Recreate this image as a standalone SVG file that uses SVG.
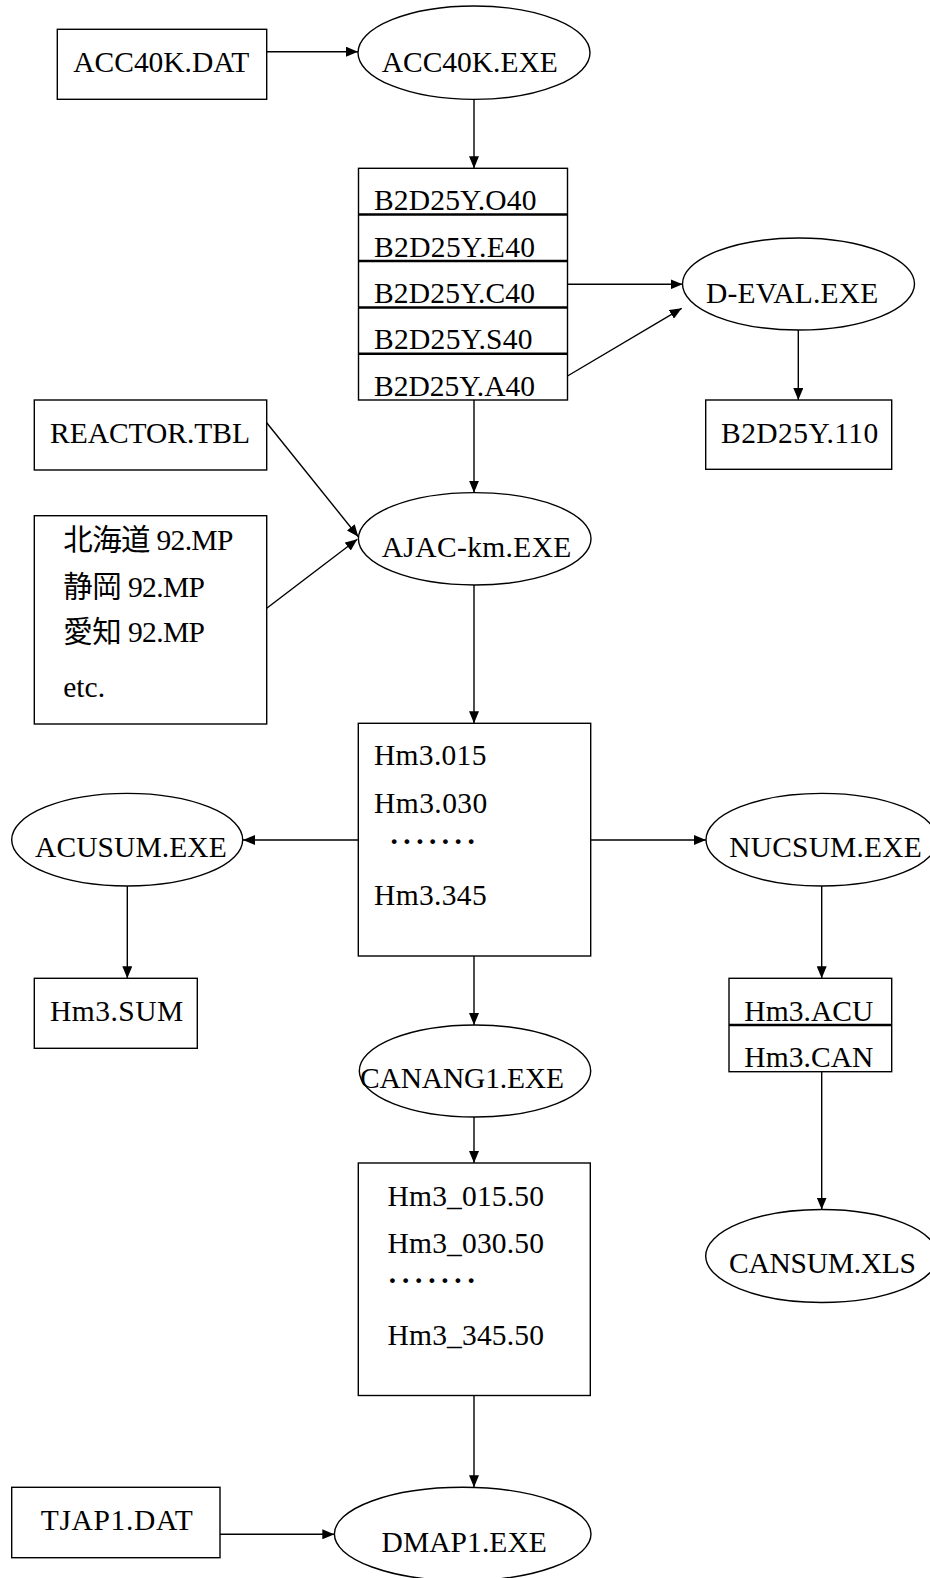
<svg xmlns="http://www.w3.org/2000/svg" width="930" height="1578" viewBox="0 0 930 1578">
  <style>
    .shape { fill: #fff; stroke: #000; stroke-width: 1.4; }
    .sep { stroke: #000; stroke-width: 2.4; }
    .edge { fill: none; stroke: #000; stroke-width: 1.4; marker-end: url(#arrow); }
    text { font-family: "Liberation Serif", "Noto Sans CJK JP", serif; font-size: 29.5px; fill: #000; }
    .dots { font-weight: bold; }
  </style>
  <defs>
    <marker id="arrow" markerUnits="userSpaceOnUse" markerWidth="12" markerHeight="10" refX="12" refY="5" orient="auto">
      <path d="M0,0 L12,5 L0,10 z" fill="#000"/>
    </marker>
  </defs>
  <rect x="0" y="0" width="930" height="1578" fill="#fff"/>

  <!-- connectors -->
  <g id="connectors">
    <line class="edge" x1="266.7" y1="51.7" x2="358" y2="51.7"/>
    <line class="edge" x1="474" y1="99.3" x2="474" y2="168.3"/>
    <line class="edge" x1="567.5" y1="284.3" x2="682.5" y2="284.3"/>
    <line class="edge" x1="567.5" y1="376" x2="681.7" y2="308.3"/>
    <line class="edge" x1="798.3" y1="330" x2="798.3" y2="400"/>
    <line class="edge" x1="474" y1="400" x2="474" y2="492.7"/>
    <line class="edge" x1="266.7" y1="422.7" x2="358.3" y2="536.7"/>
    <line class="edge" x1="266.7" y1="608.3" x2="357.3" y2="539.3"/>
    <line class="edge" x1="474" y1="585" x2="474" y2="723.3"/>
    <line class="edge" x1="358.3" y1="840" x2="243" y2="840"/>
    <line class="edge" x1="590.7" y1="840" x2="706" y2="840"/>
    <line class="edge" x1="127.3" y1="886" x2="127.3" y2="978.3"/>
    <line class="edge" x1="821.7" y1="886" x2="821.7" y2="978.3"/>
    <line class="edge" x1="474" y1="956" x2="474" y2="1025"/>
    <line class="edge" x1="474" y1="1117" x2="474" y2="1163"/>
    <line class="edge" x1="821.7" y1="1071.7" x2="821.7" y2="1209.5"/>
    <line class="edge" x1="474" y1="1395.5" x2="474" y2="1487.3"/>
    <line class="edge" x1="220" y1="1534.3" x2="334.3" y2="1534.3"/>
  </g>

  <g id="acc40k-dat">
    <rect class="shape" x="57.3" y="29.3" width="209.4" height="70"/>
    <text x="73.3" y="71.7" textLength="176">ACC40K.DAT</text>
  </g>

  <g id="acc40k-exe">
    <ellipse class="shape" cx="474" cy="52.7" rx="116" ry="46.7"/>
    <text x="381.7" y="71.7" textLength="176">ACC40K.EXE</text>
  </g>

  <g id="b2d25y-files">
    <rect class="shape" x="358.5" y="168.3" width="209" height="231.7"/>
    <line class="sep" x1="358.5" y1="214.5" x2="567.5" y2="214.5"/>
    <line class="sep" x1="358.5" y1="261" x2="567.5" y2="261"/>
    <line class="sep" x1="358.5" y1="307.5" x2="567.5" y2="307.5"/>
    <line class="sep" x1="358.5" y1="353.7" x2="567.5" y2="353.7"/>
    <text x="374" y="210" textLength="162.4">B2D25Y.O40</text>
    <text x="374" y="256.7" textLength="161">B2D25Y.E40</text>
    <text x="374" y="303" textLength="161">B2D25Y.C40</text>
    <text x="374" y="349" textLength="158.6">B2D25Y.S40</text>
    <text x="374" y="395.5" textLength="161">B2D25Y.A40</text>
  </g>

  <g id="d-eval-exe">
    <ellipse class="shape" cx="798.5" cy="284" rx="116" ry="46"/>
    <text x="706" y="302.7" textLength="172.3">D-EVAL.EXE</text>
  </g>

  <g id="b2d25y-110">
    <rect class="shape" x="705.7" y="400" width="186" height="69.3"/>
    <text x="721" y="443.3" textLength="157.3">B2D25Y.110</text>
  </g>

  <g id="reactor-tbl">
    <rect class="shape" x="34.3" y="400" width="232.4" height="70"/>
    <text x="50" y="443.3" textLength="200">REACTOR.TBL</text>
  </g>

  <g id="prefecture-maps">
    <rect class="shape" x="34.3" y="515.7" width="232.4" height="208.3"/>
    <text x="63.3" y="550" textLength="170">北海道 92.MP</text>
    <text x="63.3" y="596.7" textLength="141.7">静岡 92.MP</text>
    <text x="63.3" y="642.3" textLength="141.7">愛知 92.MP</text>
    <text x="63.3" y="696.7" textLength="41.7">etc.</text>
  </g>

  <g id="ajac-km-exe">
    <ellipse class="shape" cx="474.7" cy="538.8" rx="116.3" ry="46.2"/>
    <text x="381.7" y="556.7" textLength="189.7">AJAC-km.EXE</text>
  </g>

  <g id="hm3-files">
    <rect class="shape" x="358.3" y="723.3" width="232.4" height="232.7"/>
    <text x="374" y="765" textLength="112.4">Hm3.015</text>
    <text x="374" y="813.3" textLength="113.3">Hm3.030</text>
    <text class="dots" x="389.3" y="851" textLength="86.7">·······</text>
    <text x="374" y="905" textLength="112.7">Hm3.345</text>
  </g>

  <g id="acusum-exe">
    <ellipse class="shape" cx="127.2" cy="839.7" rx="115.5" ry="46.3"/>
    <text x="35" y="857.3" textLength="191.7">ACUSUM.EXE</text>
  </g>

  <g id="nucsum-exe">
    <ellipse class="shape" cx="821.7" cy="839.7" rx="115.7" ry="46.3"/>
    <text x="729.3" y="857.3" textLength="192.4">NUCSUM.EXE</text>
  </g>

  <g id="hm3-sum">
    <rect class="shape" x="34.3" y="978.3" width="163" height="70"/>
    <text x="50" y="1020.7" textLength="133.3">Hm3.SUM</text>
  </g>

  <g id="hm3-acu-can">
    <rect class="shape" x="729" y="978.3" width="162.7" height="93.4"/>
    <line class="sep" x1="729" y1="1025" x2="891.7" y2="1025"/>
    <text x="744.3" y="1020.7" textLength="129">Hm3.ACU</text>
    <text x="744.3" y="1066.7" textLength="129">Hm3.CAN</text>
  </g>

  <g id="canang1-exe">
    <ellipse class="shape" cx="475" cy="1071" rx="115.7" ry="46"/>
    <text x="360" y="1088" textLength="204">CANANG1.EXE</text>
  </g>

  <g id="hm3-50-files">
    <rect class="shape" x="358.3" y="1163" width="232" height="232.5"/>
    <text x="387.6" y="1205.7" textLength="156.3">Hm3_015.50</text>
    <text x="387.6" y="1252.8" textLength="156.3">Hm3_030.50</text>
    <text class="dots" x="387.6" y="1289.5" textLength="88.4">·······</text>
    <text x="387.6" y="1344.7" textLength="156.3">Hm3_345.50</text>
  </g>

  <g id="cansum-xls">
    <ellipse class="shape" cx="821.7" cy="1256" rx="116" ry="46.5"/>
    <text x="729" y="1273.4" textLength="187">CANSUM.XLS</text>
  </g>

  <g id="tjap1-dat">
    <rect class="shape" x="11.7" y="1487.3" width="208.3" height="70.4"/>
    <text x="40.7" y="1530" textLength="152">TJAP1.DAT</text>
  </g>

  <g id="dmap1-exe">
    <ellipse class="shape" cx="462.7" cy="1534" rx="128.3" ry="46.7"/>
    <text x="381.6" y="1551.5" textLength="165.2">DMAP1.EXE</text>
  </g>
</svg>
